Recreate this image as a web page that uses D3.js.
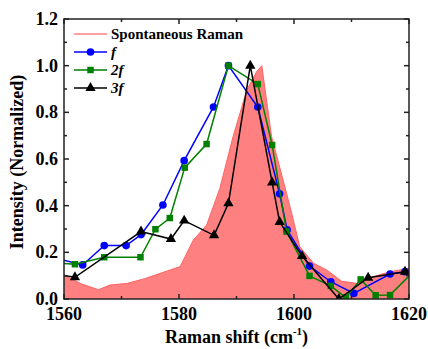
<!DOCTYPE html>
<html>
<head>
<meta charset="utf-8">
<script src="https://cdn.jsdelivr.net/npm/d3@7"></script>
<style>
  body { margin: 0; background: #fff; }
</style>
</head>
<body>
<div id="chart"></div>
<script>
// spontaneous Raman spectrum (filled)
var ramanX = [1560, 1563, 1566, 1568, 1571, 1574, 1577, 1580.2, 1582.5, 1584.8, 1587.1, 1589.4, 1591.8, 1593.5, 1594.4, 1596.1, 1598.1, 1599.6, 1601, 1603.4, 1605.7, 1608.3, 1610.9, 1612.9, 1616.7, 1620];
var ramanY = [0.103, 0.065, 0.040, 0.060, 0.067, 0.087, 0.112, 0.139, 0.253, 0.317, 0.474, 0.696, 0.896, 0.975, 1.0, 0.696, 0.51, 0.367, 0.224, 0.153, 0.124, 0.076, 0.067, 0.089, 0.117, 0.131];

// f
var fX = [1558.5, 1563.25, 1567.0, 1570.8, 1573.4, 1577.2, 1580.9, 1586.0, 1588.6, 1593.7, 1597.5, 1598.8, 1602.7, 1606.4, 1610.4, 1616.7, 1619.3, 1621.5];
var fY = [0.175, 0.146, 0.229, 0.229, 0.276, 0.403, 0.593, 0.823, 1.0, 0.823, 0.451, 0.296, 0.141, 0.074, 0.024, 0.107, 0.117, 0.125];

// 2f
var f2X = [1558.5, 1561.9, 1567.0, 1573.3, 1575.9, 1578.4, 1581.0, 1584.8, 1588.6, 1593.7, 1596.2, 1598.7, 1602.7, 1606.4, 1609.0, 1611.6, 1614.2, 1616.7, 1621.5];
var f2Y = [0.155, 0.149, 0.179, 0.179, 0.299, 0.347, 0.563, 0.664, 1.0, 0.921, 0.66, 0.289, 0.099, 0.056, 0.006, 0.084, 0.016, 0.017, 0.135];

// 3f
var f3X = [1558.5, 1561.9, 1573.4, 1578.6, 1580.9, 1586.1, 1588.6, 1592.4, 1596.2, 1597.5, 1601.4, 1607.8, 1612.9, 1619.3, 1621.5];
var f3Y = [0.106, 0.093, 0.289, 0.257, 0.336, 0.273, 0.41, 1.0, 0.499, 0.33, 0.184, 0.0, 0.091, 0.117, 0.11];

var xTicks = [1560, 1580, 1600, 1620];
var yTicks = [0.0, 0.2, 0.4, 0.6, 0.8, 1.0, 1.2];
var legendLabels = ["Spontaneous Raman", "f", "2f", "3f"];

var W = 428, H = 349;
var margin = {left: 64, right: 19, top: 19, bottom: 50};
var FONT = "'Liberation Serif', 'Times New Roman', Times, 'DejaVu Serif', serif";

var svg = d3.select("#chart").append("svg")
            .attr("width", W)
            .attr("height", H)
            .attr("font-family", FONT)
            .attr("font-weight", "bold");

var x = d3.scaleLinear().domain([1560, 1620]).range([margin.left, W - margin.right]);
var y = d3.scaleLinear().domain([0, 1.2]).range([H - margin.bottom, margin.top]);

svg.append("clipPath")
   .attr("id", "plotclip")
   .append("rect")
   .attr("x", margin.left)
   .attr("y", margin.top)
   .attr("width", W - margin.left - margin.right)
   .attr("height", H - margin.top - margin.bottom);

var plot = svg.append("g").attr("clip-path", "url(#plotclip)");

// raman area
var ramanPts = ramanX.map(function (d, i) { return [d, ramanY[i]]; });
var area = d3.area()
             .x(function (d) { return x(d[0]); })
             .y0(y(0))
             .y1(function (d) { return y(d[1]); });
var line = d3.line()
             .x(function (d) { return x(d[0]); })
             .y(function (d) { return y(d[1]); });

plot.append("path")
    .datum(ramanPts)
    .attr("d", area)
    .attr("fill", "#ff8080");
plot.append("path")
    .datum(ramanPts)
    .attr("d", line)
    .attr("fill", "none")
    .attr("stroke", "#ff6464")
    .attr("stroke-width", 1);

var series = [
  {xs: fX, ys: fY, color: "#0000ff", marker: "circle"},
  {xs: f2X, ys: f2Y, color: "#008000", marker: "square"},
  {xs: f3X, ys: f3Y, color: "#000000", marker: "triangle"}
];

var symbols = {
  circle: d3.symbol().type(d3.symbolCircle).size(46),
  square: d3.symbol().type(d3.symbolSquare).size(42),
  triangle: d3.symbol().type(d3.symbolTriangle).size(46)
};

series.forEach(function (s) {
  var pts = s.xs.map(function (d, i) { return [d, s.ys[i]]; });
  plot.append("path")
      .datum(pts)
      .attr("d", line)
      .attr("fill", "none")
      .attr("stroke", s.color)
      .attr("stroke-width", 1.5);
  plot.selectAll(".m-" + s.marker)
      .data(pts)
      .enter()
      .append("path")
      .classed("m-" + s.marker, true)
      .attr("transform", function (d) { return "translate(" + x(d[0]) + "," + y(d[1]) + ")"; })
      .attr("d", symbols[s.marker])
      .attr("fill", s.color);
});

// frame + ticks (all inward)
var x0 = margin.left, x1 = W - margin.right, y0 = H - margin.bottom, y1 = margin.top;
var frame = svg.append("g").attr("stroke", "#222").attr("stroke-width", 1.5);
frame.append("rect")
     .attr("x", x0).attr("y", y1)
     .attr("width", x1 - x0).attr("height", y0 - y1)
     .attr("fill", "none");

var xMinor = d3.range(1560, 1621, 10);
var yMinor = d3.range(0, 13).map(function (i) { return i / 10; });

xMinor.forEach(function (v) {
  var len = (v % 20 === 0) ? 5 : 3;
  frame.append("line").attr("x1", x(v)).attr("x2", x(v)).attr("y1", y0).attr("y2", y0 - len);
  frame.append("line").attr("x1", x(v)).attr("x2", x(v)).attr("y1", y1).attr("y2", y1 + len);
});
yMinor.forEach(function (v, i) {
  var len = (i % 2 === 0) ? 5 : 3;
  frame.append("line").attr("y1", y(v)).attr("y2", y(v)).attr("x1", x0).attr("x2", x0 + len);
  frame.append("line").attr("y1", y(v)).attr("y2", y(v)).attr("x1", x1).attr("x2", x1 - len);
});

// tick labels
svg.selectAll(".xlab")
   .data(xTicks)
   .enter()
   .append("text")
   .attr("x", function (d) { return x(d); })
   .attr("y", y0 + 21)
   .attr("text-anchor", "middle")
   .attr("font-size", 18)
   .text(function (d) { return d; });

svg.selectAll(".ylab")
   .data(yTicks)
   .enter()
   .append("text")
   .attr("x", x0 - 6)
   .attr("y", function (d) { return y(d) + 6; })
   .attr("text-anchor", "end")
   .attr("font-size", 18)
   .text(function (d) { return d.toFixed(1); });

// axis titles
var xt = svg.append("text")
   .attr("x", (x0 + x1) / 2)
   .attr("y", H - 6)
   .attr("text-anchor", "middle")
   .attr("font-size", 18);
xt.append("tspan").text("Raman shift (cm");
xt.append("tspan").attr("font-size", 11).attr("dy", -8).text("-1");
xt.append("tspan").attr("dy", 8).text(")");

svg.append("text")
   .attr("transform", "translate(23," + ((y0 + y1) / 2 + 3) + ") rotate(-90)")
   .attr("text-anchor", "middle")
   .attr("font-size", 18)
   .text("Intensity (Normalized)");

// legend
var legend = svg.append("g");
var legY = [34, 52, 70, 88];
var legColors = ["#ff8080", "#0000ff", "#008000", "#000000"];
var legMarkers = [null, "circle", "square", "triangle"];
legendLabels.forEach(function (lab, i) {
  legend.append("line")
        .attr("x1", 74).attr("x2", 107)
        .attr("y1", legY[i]).attr("y2", legY[i])
        .attr("stroke", legColors[i])
        .attr("stroke-width", 1.5);
  if (legMarkers[i])
    legend.append("path")
          .attr("transform", "translate(90.5," + legY[i] + ")")
          .attr("d", symbols[legMarkers[i]])
          .attr("fill", legColors[i]);
  legend.append("text")
        .attr("x", 111)
        .attr("y", legY[i] + 5)
        .attr("font-size", 15)
        .attr("font-style", i === 0 ? "normal" : "italic")
        .text(lab);
});
</script>
</body>
</html>
